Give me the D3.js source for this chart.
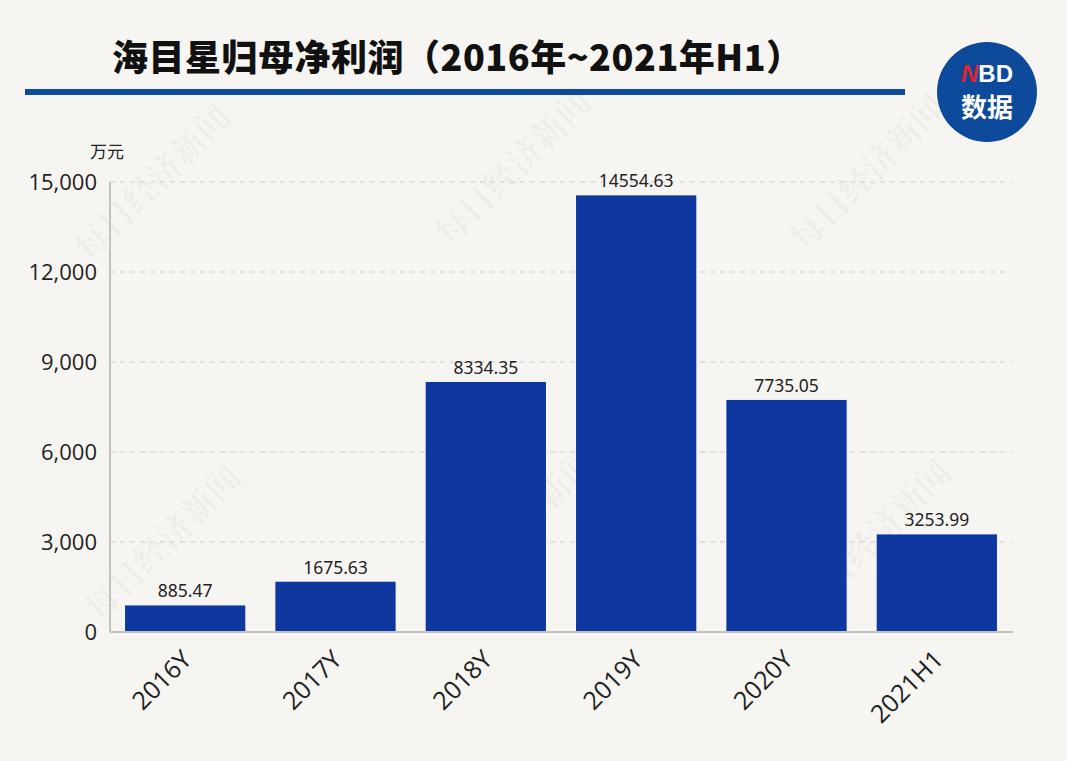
<!DOCTYPE html>
<html><head><meta charset="utf-8">
<script src="https://cdn.jsdelivr.net/npm/d3@7"></script>
<style>html,body{margin:0;padding:0;background:#f7f5f1;}</style>
</head><body>
<svg id="c" width="1067" height="761"></svg>
<script>
const categories = ["2016Y","2017Y","2018Y","2019Y","2020Y","2021H1"];
const values = [885.47, 1675.63, 8334.35, 14554.63, 7735.05, 3253.99];
const valueLabels = ["885.47","1675.63","8334.35","14554.63","7735.05","3253.99"];
const yTicks = [0, 3000, 6000, 9000, 12000, 15000];
const titleText = "海目星归母净利润（2016年~2021年H1）";
const unitText = "万元";

const svg = d3.select("#c");
svg.append("rect").attr("width",1067).attr("height",761).attr("fill","#f7f5f1");

// watermarks
const wm = [[155,185],[515,170],[870,175],[165,545],[520,530],[875,540]];
wm.forEach(([x,y])=>{
  svg.append("text").attr("transform",`translate(${x},${y}) rotate(-45)`)
    .attr("text-anchor","middle").attr("dominant-baseline","middle")
    .attr("font-family","Noto Serif CJK SC, Noto Sans CJK SC").attr("font-weight","bold")
    .attr("font-size",34).attr("fill","#000").attr("fill-opacity",0.045)
    .text("每日经济新闻");
});

const L=110, R=1012, T=182, B=632;
const x = d3.scaleBand().domain(categories).range([L, R]).paddingInner(0.2).paddingOuter(0.1);
const y = d3.scaleLinear().domain([0,15000]).range([B,T]);

// title
svg.append("text").attr("x",112).attr("y",71)
  .attr("font-family","Noto Sans CJK SC").attr("font-weight","900").attr("font-size",36)
  .attr("letter-spacing",0.5)
  .attr("fill","#111").text(titleText);
svg.append("rect").attr("x",25).attr("y",89).attr("width",880).attr("height",6).attr("fill","#0d4a9c");

// logo
const lg = svg.append("g").attr("transform","translate(987,92)");
lg.append("circle").attr("r",50).attr("fill","#0d4a9c");
const nt = lg.append("text").attr("x",0).attr("y",-10).attr("text-anchor","middle")
  .attr("font-family","Liberation Sans").attr("font-weight","bold").attr("font-size",24);
nt.append("tspan").attr("fill","#e0252b").attr("font-style","italic").text("N");
nt.append("tspan").attr("fill","#fff").text("BD");
lg.append("text").attr("x",0).attr("y",25).attr("text-anchor","middle")
  .attr("font-family","Noto Sans CJK SC").attr("font-weight","bold").attr("font-size",26)
  .attr("fill","#fff").text("数据");

// unit
svg.append("text").attr("x",90).attr("y",158).attr("font-family","Noto Sans CJK SC")
  .attr("font-size",17).attr("fill","#222").text(unitText);

// gridlines
svg.append("g").selectAll("line").data(yTicks.filter(d=>d>0)).join("line")
  .attr("x1",L).attr("x2",R).attr("y1",d=>y(d)).attr("y2",d=>y(d))
  .attr("stroke","#d2d0cc").attr("stroke-width",1.2).attr("stroke-dasharray","5,5");

// y axis
const yAxis = svg.append("g").attr("transform",`translate(${L},0)`)
  .call(d3.axisLeft(y).tickValues(yTicks).tickFormat(d3.format(",")).tickSize(0).tickPadding(13));
yAxis.select(".domain").remove();
yAxis.selectAll("text").attr("font-family","Open Sans").attr("font-size",22).attr("fill","#222");
svg.append("line").attr("x1",L).attr("x2",L).attr("y1",T).attr("y2",B).attr("stroke","#c4c2c0").attr("stroke-width",2);

// bars
svg.append("g").selectAll("rect").data(values).join("rect")
  .attr("x",(d,i)=>x(categories[i])).attr("width",x.bandwidth())
  .attr("y",d=>y(d)).attr("height",d=>B-y(d)).attr("fill","#0e37a0");

// value labels
svg.append("g").selectAll("text").data(values).join("text")
  .attr("x",(d,i)=>x(categories[i])+x.bandwidth()/2).attr("y",d=>y(d)-8)
  .attr("text-anchor","middle").attr("font-family","Noto Sans").attr("font-size",17.5).attr("fill","#222")
  .text((d,i)=>valueLabels[i]);

// x axis
svg.append("line").attr("x1",L).attr("x2",R+1).attr("y1",B).attr("y2",B).attr("stroke","#c4c2c0").attr("stroke-width",2);
const xAxis = svg.append("g").attr("transform",`translate(0,${B})`)
  .call(d3.axisBottom(x).tickSize(0).tickPadding(0));
xAxis.select(".domain").remove();
xAxis.selectAll("text").attr("font-family","Open Sans").attr("font-size",25).attr("fill","#222")
  .attr("text-anchor","end").attr("dy",0)
  .attr("transform","translate(8,29) rotate(-45)");
</script>
</body></html>
